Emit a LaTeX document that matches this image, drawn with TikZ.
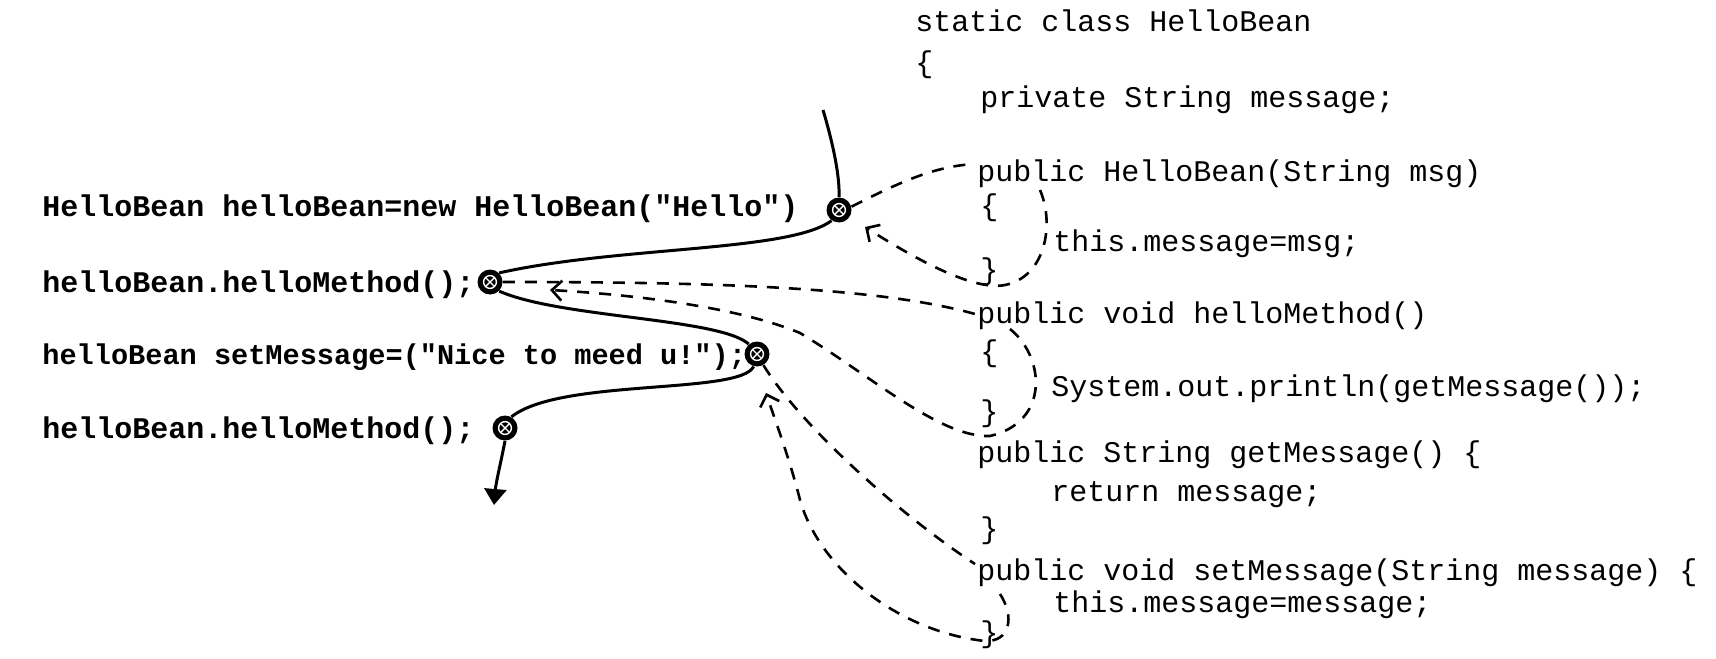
\documentclass[tikz,border=0pt]{standalone}
\usepackage{fontspec}
\setmonofont{Liberation Mono}
\usetikzlibrary{arrows.meta}
\begin{document}
\begin{tikzpicture}[x=0.5pt,y=-0.5pt,
  code/.style={font=\fontsize{15}{18}\selectfont\ttfamily, anchor=base west, inner sep=0pt},
  leftcode/.style={font=\fontsize{15}{18}\selectfont\ttfamily\bfseries, anchor=base west, inner sep=0pt},
  callmark/.style={circle, fill=black, minimum size=12.5pt, inner sep=0pt,
    path picture={
      \draw[white, line width=0.7pt] (path picture bounding box.center) circle (3.2pt);
      \draw[white, line width=0.7pt]
        ([shift={(-2.2pt,-2.2pt)}]path picture bounding box.center) -- ([shift={(2.2pt,2.2pt)}]path picture bounding box.center)
        ([shift={(-2.2pt,2.2pt)}]path picture bounding box.center) -- ([shift={(2.2pt,-2.2pt)}]path picture bounding box.center);
    }},
  flow/.style={line width=1.5pt},
  callline/.style={line width=1.3pt, dash pattern=on 6pt off 5pt},
  retline/.style={line width=1.3pt, dash pattern=on 6pt off 5pt, -{Straight Barb[length=5pt,width=10pt,line width=1.3pt]}}
]
\useasboundingbox (0,0) rectangle (1716,658);

% left code
\node[leftcode] (l1) at (42,216) {HelloBean helloBean=new HelloBean("Hello")};
\node[leftcode] (l2) at (42,292) {helloBean.helloMethod();};
\node[leftcode, font=\fontsize{14.3}{18}\selectfont\ttfamily\bfseries] (l3) at (42,364) {helloBean setMessage=("Nice to meed u!");};
\node[leftcode] (l4) at (42,438) {helloBean.helloMethod();};

% right code
\node[code] (r1) at (915,32) {static class HelloBean};
\node[code] (r2) at (915,73) {\{};
\node[code] (r3) at (980,107) {private String message;};
\node[code] (r4) at (977,181) {public HelloBean(String msg)};
\node[code] (r5) at (980,215) {\{};
\node[code] (r6) at (1053,251) {this.message=msg;};
\node[code] (r7) at (980,279) {\}};
\node[code] (r8) at (977,323) {public void helloMethod()};
\node[code] (r9) at (980,361) {\{};
\node[code] (r10) at (1051,396) {System.out.println(getMessage());};
\node[code] (r11) at (980,421) {\}};
\node[code] (r12) at (977,462) {public String getMessage() \{};
\node[code] (r13) at (1051,501) {return message;};
\node[code] (r14) at (980,538) {\}};
\node[code] (r15) at (977,580) {public void setMessage(String message) \{};
\node[code] (r16) at (1053,612) {this.message=message;};
\node[code] (r17) at (980,642) {\}};

% call markers
\node[callmark] (c1) at (839,210) {};
\node[callmark] (c2) at (490,282) {};
\node[callmark] (c3) at (757,354) {};
\node[callmark] (c4) at (505,428) {};

\coordinate (top) at (823,110);
\coordinate (end) at (494,505);

% main flow
\draw[flow] (top) .. controls (832,140) and (840,175) .. (c1.north);
\draw[flow] (c1.-125) .. controls (790,252) and (620,246) .. (c2.45);
\draw[flow] (c2.-45) .. controls (560,318) and (720,318) .. (c3.130);
\draw[flow] (c3.-105) .. controls (740,395) and (560,378) .. (c4.60);
\draw[flow, -{Triangle[length=8pt,width=11pt]}] (c4.south) .. controls (501,462) and (496,482) .. (end);

% dashed call / return lines
\coordinate (ctorIn) at (975,164);
\coordinate (ctorOut) at (1040,190);
\coordinate (hmIn) at (975,314);
\coordinate (hmOut) at (1010,329);
\coordinate (smIn) at (975,564);
\coordinate (smOut) at (1000,594);
\coordinate (ret1) at (865,227);
\coordinate (ret2) at (550,290);
\coordinate (ret3) at (766,393);

\draw[callline] (c1.15) .. controls (900,182) and (935,166) .. (ctorIn);
\draw[retline] (ctorOut) .. controls (1055,225) and (1045,277) .. (1005,285)
  .. controls (975,291) and (920,262) .. (ret1);

\draw[callline] (c2.east) .. controls (700,282) and (875,286) .. (hmIn);
\draw[retline] (hmOut) .. controls (1045,357) and (1050,422) .. (990,436)
  .. controls (940,438) and (870,375) .. (800,333)
  .. controls (740,308) and (640,295) .. (ret2);

\draw[callline] (c3.-60) .. controls (800,425) and (900,515) .. (smIn);
\draw[retline] (smOut) .. controls (1015,617) and (1010,642) .. (985,641)
  .. controls (900,632) and (820,570) .. (800,500)
  .. controls (790,460) and (775,420) .. (ret3);
\end{tikzpicture}
\end{document}
